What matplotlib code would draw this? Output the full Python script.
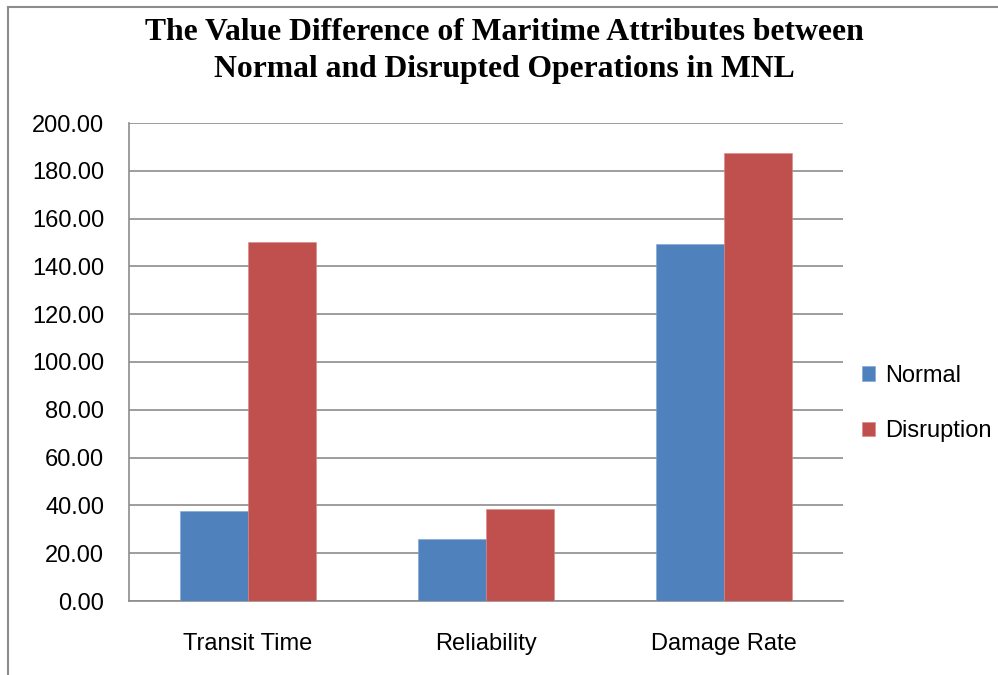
import matplotlib
matplotlib.use("Agg")
import matplotlib.pyplot as plt
import numpy as np

categories = ["Transit Time", "Reliability", "Damage Rate"]
normal = [37.8, 25.8, 149.4]
disruption = [150.1, 38.5, 187.4]
series_labels = ["Normal", "Disruption"]
yticks = [0, 20, 40, 60, 80, 100, 120, 140, 160, 180, 200]

BLUE = "#4F81BD"
RED = "#C0504D"
GRID = "#8c8c8c"
TICK_FONT = "Liberation Sans"

fig = plt.figure(figsize=(9.98, 6.75), dpi=100)
ax = fig.add_axes([129 / 998, 1 - 601 / 675, (843 - 129) / 998, (601 - 123) / 675])

x = np.arange(len(categories))
w = 0.286
ax.bar(x - w / 2, normal, w, color=BLUE, label=series_labels[0], zorder=3,
       edgecolor="#7fa3d1", linewidth=0.4)
ax.bar(x + w / 2, disruption, w, color=RED, label=series_labels[1], zorder=3,
       edgecolor="#d98583", linewidth=0.4)

ax.set_xlim(-0.5, 2.5)
ax.set_ylim(0, 200)
ax.set_yticks(yticks)
ax.set_yticklabels([f"{v:.2f}" for v in yticks], family=TICK_FONT, fontsize=17)
ax.set_xticks(x)
ax.set_xticklabels(categories, family=TICK_FONT, fontsize=17)
ax.tick_params(axis="y", length=0, pad=18)
ax.tick_params(axis="x", length=0, pad=23)
ax.yaxis.grid(True, color=GRID, linewidth=1.2, zorder=0)
ax.set_axisbelow(True)
for s in ["top", "right"]:
    ax.spines[s].set_visible(False)
for s in ["left", "bottom"]:
    ax.spines[s].set_color(GRID)
    ax.spines[s].set_linewidth(1.2)

leg = ax.legend(loc="center left", bbox_to_anchor=(1.008, 0.413), frameon=False,
                prop={"family": TICK_FONT, "size": 17}, handlelength=0.55,
                handleheight=0.55, handletextpad=0.45, labelspacing=1.42,
                borderaxespad=0.35, borderpad=0.2)

fig.text(0.505, 1 - 32 / 675, "The Value Difference of Maritime Attributes between",
         ha="center", va="center", family="Liberation Serif", weight="bold",
         fontsize=22.8)
fig.text(0.505, 1 - 69 / 675, "Normal and Disrupted Operations in MNL",
         ha="center", va="center", family="Liberation Serif", weight="bold",
         fontsize=22.8)

# outer chart border (top and left edges visible)
fig.add_artist(plt.Line2D([8 / 998, 8 / 998], [0, 1 - 7 / 675], color=GRID,
                          linewidth=1.5, transform=fig.transFigure))
fig.add_artist(plt.Line2D([8 / 998, 1], [1 - 7 / 675, 1 - 7 / 675], color=GRID,
                          linewidth=1.5, transform=fig.transFigure))

fig.savefig("out.png", dpi=100)
